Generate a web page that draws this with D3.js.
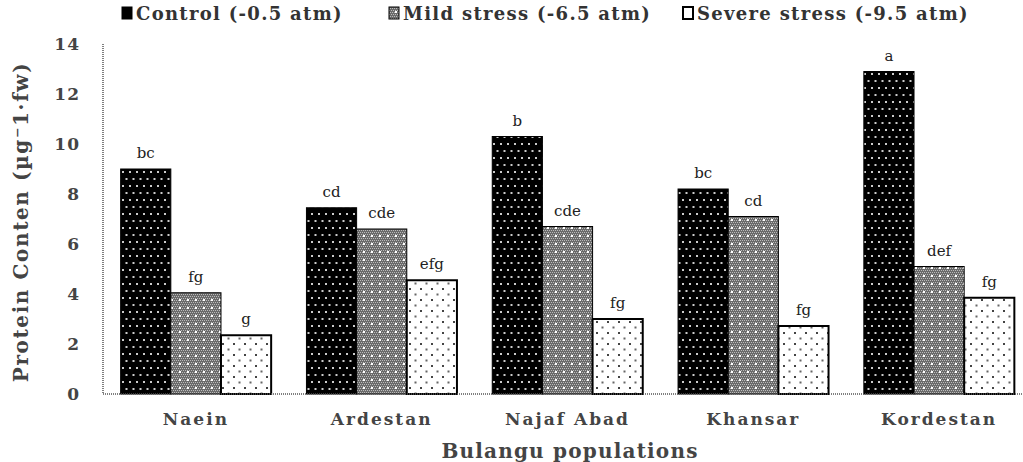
<!DOCTYPE html>
<html><head><meta charset="utf-8">
<script src="https://cdn.jsdelivr.net/npm/d3@7"></script>
<style>body{margin:0;background:#fff}svg{display:block}
text{font-family:"DejaVu Serif",serif}</style>
</head><body>
<svg id="c" width="1023" height="462"></svg>
<script>
const categories = ["Naein","Ardestan","Najaf Abad","Khansar","Kordestan"];
const seriesNames = ["Control (-0.5 atm)","Mild stress (-6.5 atm)","Severe stress (-9.5 atm)"];
const control = [9.0, 7.45, 10.3, 8.2, 12.9];
const mild = [4.05, 6.6, 6.7, 7.1, 5.1];
const severe = [2.35, 4.55, 3.0, 2.72, 3.85];
const lettersControl = ["bc","cd","b","bc","a"];
const lettersMild = ["fg","cde","cde","cd","def"];
const lettersSevere = ["g","efg","fg","fg","fg"];
const yTicks = [0,2,4,6,8,10,12,14];

const series = [control, mild, severe];
const letters = [lettersControl, lettersMild, lettersSevere];

const svg = d3.select("#c");
const defs = svg.append("defs");
const p1 = defs.append("pattern").attr("id","pc").attr("patternUnits","userSpaceOnUse").attr("width",14).attr("height",14);
p1.append("rect").attr("width",14).attr("height",14).attr("fill","#000");
[[3,3],[10,3],[6.5,10],[13.5,10],[-0.5,10]].forEach(([a,b])=>p1.append("rect").attr("x",a).attr("y",b).attr("width",2).attr("height",2).attr("fill","#ccc"));
const p2 = defs.append("pattern").attr("id","pm").attr("patternUnits","userSpaceOnUse").attr("width",8).attr("height",8);
p2.append("rect").attr("width",8).attr("height",8).attr("fill","#6a6a6a");
for (let i=0;i<8;i+=2) for (let j=0;j<8;j+=2) p2.append("rect").attr("x",i+((j/2)%2)).attr("y",j).attr("width",1).attr("height",1).attr("fill","#bbb");
p2.append("rect").attr("x",3).attr("y",3).attr("width",2).attr("height",2).attr("fill","#fff");
const p3 = defs.append("pattern").attr("id","ps").attr("patternUnits","userSpaceOnUse").attr("width",11).attr("height",11);
p3.append("rect").attr("width",11).attr("height",11).attr("fill","#fff");
p3.append("rect").attr("x",2).attr("y",2).attr("width",2).attr("height",2).attr("fill","#444");
p3.append("rect").attr("x",7.5).attr("y",7.5).attr("width",2).attr("height",2).attr("fill","#666");
const fills = ["url(#pc)","url(#pm)","url(#ps)"];

const x0 = d3.scaleBand().domain(categories).range([103,1032]).paddingInner(0.19).paddingOuter(0.095);
const x1 = d3.scaleBand().domain([0,1,2]).range([0,x0.bandwidth()]);
const y = d3.scaleLinear().domain([0,14]).range([394,44]);

const g = svg.append("g");
categories.forEach((c,ci)=>{
  series.forEach((s,si)=>{
    const bx = x0(c)+x1(si), bw = x1.bandwidth(), by = y(s[ci]);
    g.append("rect").attr("x",bx).attr("y",by).attr("width",bw).attr("height",y(0)-by)
      .attr("fill",fills[si]).attr("stroke","#000").attr("stroke-width",si===2?2:1);
    g.append("text").attr("x",bx+bw/2).attr("y",by-11).attr("text-anchor","middle")
      .attr("font-size",15).attr("fill","#222").text(letters[si][ci]);
  });
});

svg.append("line").attr("x1",103).attr("x2",1023).attr("y1",394).attr("y2",394).attr("stroke","#555").attr("stroke-width",1.5).attr("stroke-dasharray","1,1");
svg.append("line").attr("x1",103).attr("x2",103).attr("y1",44).attr("y2",394).attr("stroke","#555").attr("stroke-width",1.5).attr("stroke-dasharray","1,1");

yTicks.forEach(t=>{
  svg.append("text").attr("x",80).attr("y",y(t)+6).attr("text-anchor","end")
    .attr("font-weight","bold").attr("font-size",17).attr("letter-spacing",1).attr("fill","#444").text(t);
});
categories.forEach(c=>{
  svg.append("text").attr("x",x0(c)+x0.bandwidth()/2).attr("y",425).attr("text-anchor","middle")
    .attr("font-weight","bold").attr("font-size",17).attr("fill","#444").attr("letter-spacing",2).text(c);
});
svg.append("text").attr("x",570).attr("y",458).attr("text-anchor","middle")
  .attr("font-weight","bold").attr("font-size",20).attr("fill","#444").attr("letter-spacing",1.2).text("Bulangu populations");
svg.append("text").attr("transform","translate(28,222) rotate(-90)").attr("text-anchor","middle")
  .attr("font-weight","bold").attr("font-size",20).attr("fill","#444").attr("letter-spacing",1.6).text("Protein Conten (µg⁻1·fw)");

const legX = [122, 389, 683];
seriesNames.forEach((n,i)=>{
  svg.append("rect").attr("x",legX[i]).attr("y",7).attr("width",10).attr("height",12)
    .attr("fill", i===0?"#000":(i===1?"url(#pm)":"#fff")).attr("stroke","#000").attr("stroke-width",i===2?2:1);
  svg.append("text").attr("x",legX[i]+14).attr("y",20).attr("font-weight","bold")
    .attr("font-size",18).attr("fill","#333").attr("letter-spacing",1.3).text(n);
});
</script>
</body></html>
